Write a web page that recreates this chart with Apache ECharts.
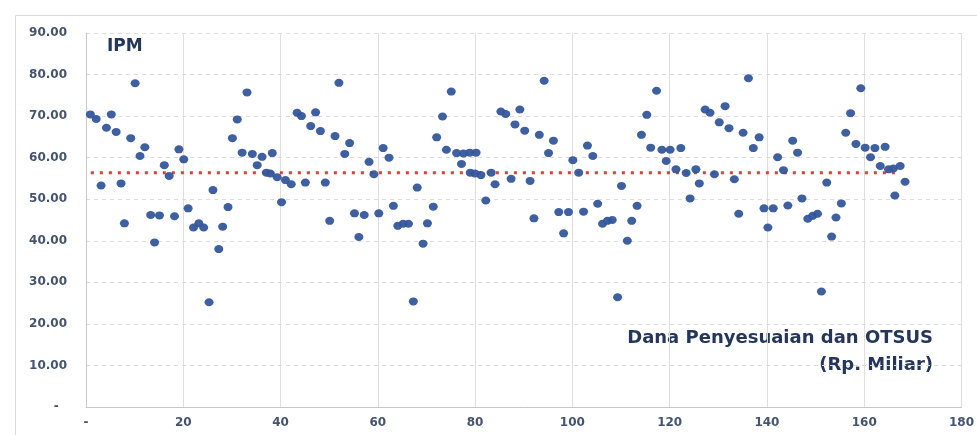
<!DOCTYPE html>
<html>
<head>
<meta charset="utf-8">
<script src="https://cdn.jsdelivr.net/npm/echarts@6/dist/echarts.min.js"></script>
<style>
html,body{margin:0;padding:0;background:#fff;}
#chart{width:977px;height:435px;}
</style>
</head>
<body>
<div id="chart"></div>
<script>
// Data
const xValues = [0.9,2.1,3.1,4.2,5.2,6.2,7.2,7.9,9.2,10.1,11.1,12.1,13.3,14.1,15.1,16.1,17.1,18.2,19.1,20.1,
21.0,22.1,23.2,24.2,25.3,26.1,27.3,28.1,29.2,30.1,31.1,32.1,33.1,34.2,35.2,36.2,37.1,37.9,38.3,39.3,
40.2,41.0,42.2,43.4,44.3,45.1,46.2,47.2,48.2,49.2,50.1,51.2,52.0,53.2,54.2,55.2,56.1,57.2,58.2,59.2,
60.2,61.1,62.3,63.2,64.1,65.2,66.3,67.3,68.1,69.3,70.2,71.4,72.1,73.3,74.1,75.1,76.2,77.2,77.6,78.9,
80.2,79.0,80.0,81.2,82.2,83.3,84.1,85.3,86.3,87.4,88.2,89.2,90.2,91.3,92.1,93.2,94.2,95.1,96.1,97.2,
98.2,99.2,100.1,101.3,102.3,103.1,104.2,105.2,106.2,107.2,108.2,109.3,110.1,111.3,112.2,113.3,114.2,115.3,116.1,117.3,
118.4,119.3,120.1,121.3,122.3,123.4,124.2,125.4,126.1,127.3,128.3,129.2,130.2,131.4,132.2,133.3,134.2,135.1,136.2,137.2,
138.4,139.4,140.2,141.3,142.2,143.4,144.3,145.3,146.3,147.2,148.4,149.4,150.4,151.2,152.3,153.3,154.2,155.3,156.2,157.2,
158.3,159.3,160.2,161.3,162.2,163.3,164.3,165.0,166.0,166.3,167.4,168.4];
const ipmValues = [70.4,69.3,53.3,67.2,70.4,66.2,53.8,44.2,64.7,77.9,60.4,62.5,46.2,39.6,46.1,58.2,55.6,45.9,62.0,59.6,
47.8,43.2,44.2,43.2,25.2,52.2,38.0,43.4,48.1,64.7,69.2,61.2,75.7,60.9,58.2,60.2,56.4,56.2,61.1,55.3,
49.3,54.6,53.6,70.8,70.0,54.0,67.6,70.9,66.4,54.0,44.8,65.2,78.0,60.9,63.5,46.6,40.9,46.2,59.0,56.0,
46.6,62.3,60.0,48.4,43.6,44.1,44.1,25.4,52.8,39.3,44.2,48.2,64.9,69.9,61.9,75.9,61.1,58.5,61.0,61.2,
61.2,56.4,56.2,55.8,49.7,56.4,53.6,71.1,70.5,54.9,68.0,71.6,66.5,54.4,45.4,65.5,78.5,61.1,64.1,46.9,
41.8,46.9,59.4,56.4,47.0,62.9,60.4,48.9,44.1,44.8,45.0,26.4,53.2,40.0,44.8,48.4,65.5,70.3,62.4,76.1,
61.9,59.2,61.9,57.2,62.3,56.3,50.2,57.2,53.8,71.6,70.8,56.0,68.5,72.4,67.1,54.8,46.5,66.0,79.1,62.3,
64.9,47.8,43.2,47.8,60.1,57.0,48.5,64.1,61.2,50.2,45.3,46.0,46.5,27.8,54.0,41.0,45.6,49.0,66.0,70.7,
63.3,76.7,62.4,60.1,62.3,58.0,62.6,57.2,57.4,50.9,58.0,54.2];
const averageX = [1, 167];
const averageY = [56.4, 56.4];
const xTicks = [0, 20, 40, 60, 80, 100, 120, 140, 160, 180];
const yTicks = [0, 10, 20, 30, 40, 50, 60, 70, 80, 90];
const titleY = 'IPM';
const titleX1 = 'Dana Penyesuaian dan OTSUS';
const titleX2 = '(Rp. Miliar)';

const points = xValues.map((x, i) => [x, ipmValues[i]]);
const avgLine = averageX.map((x, i) => [x, averageY[i]]);

const chart = echarts.init(document.getElementById('chart'), null, {renderer: 'canvas'});
const labelFont = {fontFamily: 'DejaVu Sans', fontWeight: 'bold', fontSize: 12, color: '#44536f'};
const titleColor = '#24365a';

chart.setOption({
  animation: false,
  backgroundColor: '#ffffff',
  grid: {left: 86, right: 14, top: 33, bottom: 28, containLabel: false},
  xAxis: {
    type: 'value', min: xTicks[0], max: xTicks[xTicks.length - 1], interval: 20,
    axisLine: {show: true, lineStyle: {color: '#c8c8c8', width: 1}},
    axisTick: {show: false},
    axisLabel: Object.assign({margin: 10, formatter: v => v === 0 ? '-' : String(v)}, labelFont),
    splitLine: {show: true, lineStyle: {color: '#dedede', width: 1}}
  },
  yAxis: {
    type: 'value', min: yTicks[0], max: yTicks[yTicks.length - 1], interval: 10,
    axisLine: {show: true, lineStyle: {color: '#c8c8c8', width: 1}},
    axisTick: {show: false},
    axisLabel: Object.assign({margin: 19, formatter: v => v === 0 ? '-  ' : v.toFixed(2)}, labelFont),
    splitLine: {show: true, lineStyle: {color: '#dcdcdc', width: 1, type: [4, 4]}}
  },
  graphic: [
    {type: 'rect', silent: true, shape: {x: 15.5, y: 15.5, width: 1000, height: 500},
     style: {fill: 'none', stroke: '#dadada', lineWidth: 1}, z: -10},
    {type: 'text', left: 107, top: 38, silent: true,
     style: {text: titleY, font: 'bold 17px "DejaVu Sans"', fill: titleColor}},
    {type: 'text', right: 44, top: 329, silent: true,
     style: {text: titleX1, font: 'bold 18px "DejaVu Sans"', fill: titleColor, align: 'right'}},
    {type: 'text', right: 44, top: 356, silent: true,
     style: {text: titleX2, font: 'bold 18px "DejaVu Sans"', fill: titleColor, align: 'right'}}
  ],
  series: [
    {
      type: 'line', data: avgLine, symbol: 'none', z: 2,
      lineStyle: {color: '#e33c34', width: 3, type: [3, 6], cap: 'butt'}
    },
    {
      type: 'scatter', data: points, z: 3,
      symbol: 'circle', symbolSize: [9, 8],
      itemStyle: {color: '#34569b', opacity: 0.95}
    }
  ]
});
</script>
</body>
</html>
